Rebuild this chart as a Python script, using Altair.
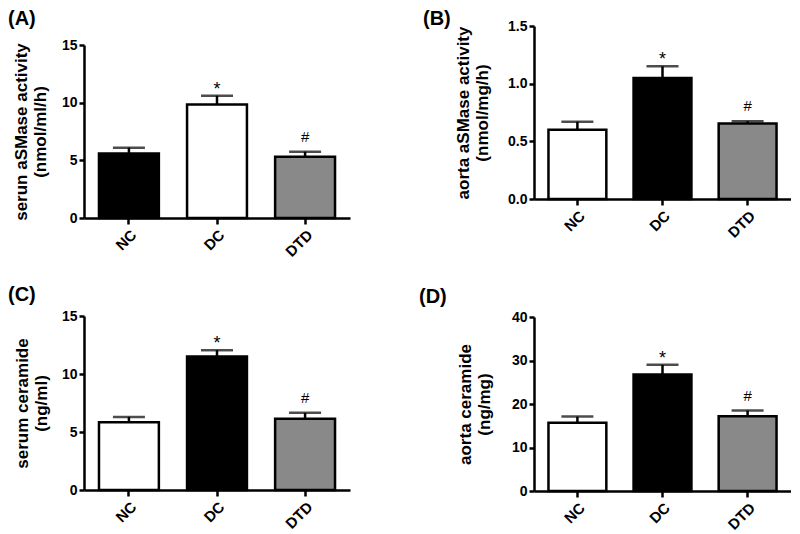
import altair as alt
import pandas as pd

groups = ["NC", "DC", "DTD"]
marks = ["", "*", "#"]

a_mean = [5.6, 9.85, 5.3]
a_sem = [0.5, 0.75, 0.45]
b_mean = [0.60, 1.05, 0.655]
b_sem = [0.07, 0.10, 0.02]
c_mean = [5.85, 11.5, 6.15]
c_sem = [0.45, 0.55, 0.5]
d_mean = [15.7, 26.8, 17.2]
d_sem = [1.4, 2.2, 1.3]

a_fill = ["#000000", "#ffffff", "#898989"]
bcd_fill = ["#ffffff", "#000000", "#898989"]

a_ticks = [0, 5, 10, 15]
b_ticks = [0.0, 0.5, 1.0, 1.5]
c_ticks = [0, 5, 10, 15]
d_ticks = [0, 10, 20, 30, 40]

FONT = "Liberation Sans"
LW = 2.5


def panel(letter, mean, sem, fills, title_lines, ticks, fmt, dmax,
          width, height, lab_x, lab_y, title_pad):
    df = pd.DataFrame({
        "group": groups,
        "mean": mean,
        "top": [m + s for m, s in zip(mean, sem)],
        "mark": marks,
        "fillc": fills,
    })
    x = alt.X("group:N", sort=groups,
              scale=alt.Scale(paddingInner=0.32, paddingOuter=0.17),
              axis=alt.Axis(title=None, labelAngle=-45, tickSize=6,
                            labelPadding=3, labelFontSize=15))

    def yenc(field):
        return alt.Y(field, type="quantitative",
                     scale=alt.Scale(domain=[0, dmax], nice=False, zero=True),
                     axis=alt.Axis(title=title_lines, values=ticks, format=fmt,
                                   tickSize=5, labelPadding=2,
                                   titlePadding=title_pad))

    base = alt.Chart(df)
    rule = base.mark_rule(color="black", strokeWidth=LW).encode(
        x=x, y=yenc("mean"), y2="top:Q")
    cap = base.mark_tick(color="black", thickness=LW, size=32).encode(
        x=x, y=yenc("top"))
    bar = base.mark_bar(stroke="black", strokeWidth=LW).encode(
        x=x, y=yenc("mean"),
        fill=alt.Fill("fillc:N", scale=None))
    star = base.transform_filter("datum.mark == '*'").mark_text(
        font=FONT, fontSize=18, color="black", baseline="alphabetic", dy=-1
    ).encode(x=x, y=yenc("top"), text="mark:N")
    hsh = base.transform_filter("datum.mark == '#'").mark_text(
        font=FONT, fontSize=15, color="black", baseline="alphabetic", dy=-10
    ).encode(x=x, y=yenc("top"), text="mark:N")
    lab = alt.Chart(pd.DataFrame({"t": [letter]})).mark_text(
        font=FONT, fontSize=20, fontWeight="bold", color="black",
        align="left", baseline="top"
    ).encode(text="t:N", x=alt.value(lab_x), y=alt.value(lab_y))
    return alt.layer(rule, cap, bar, star, hsh, lab).properties(
        width=width, height=height)


def spacer():
    return alt.Chart(pd.DataFrame({"v": [0]})).mark_point(
        opacity=0, size=0).encode(
        x=alt.value(0), y=alt.value(0)).properties(width=1, height=1)


pa = panel("(A)", a_mean, a_sem, a_fill,
           ["serun aSMase activity", "(nmol/ml/h)"], a_ticks, "d", 15,
           266, 173, -76, -36, 12)
pb = panel("(B)", b_mean, b_sem, bcd_fill,
           ["aorta aSMase activity", "(nmol/mg/h)"], b_ticks, ".1f", 1.5,
           257, 173, -111, -17, 16)
pc = panel("(C)", c_mean, c_sem, bcd_fill,
           ["serum ceramide", "(ng/ml)"], c_ticks, "d", 15,
           266, 174, -76, -31, 11)
pd_ = panel("(D)", d_mean, d_sem, bcd_fill,
            ["aorta ceramide", "(ng/mg)"], d_ticks, "d", 40,
            257, 174, -115, -30, 18)

col1 = alt.vconcat(spacer(), alt.vconcat(pa, pc, spacing=25), spacing=0)
col2 = alt.vconcat(spacer(), alt.vconcat(pb, pd_, spacing=46), spacing=0)

chart = alt.hconcat(col1, col2, spacing=69).properties(
    padding=0
).configure_view(stroke=None).configure_axis(
    domainColor="black", domainWidth=LW, tickColor="black", tickWidth=LW,
    labelFont=FONT, labelFontSize=14, labelFontWeight="bold",
    labelColor="black", titleFont=FONT, titleFontSize=17,
    titleFontWeight="bold", titleColor="black", titleLineHeight=19,
    grid=False
)

chart.save("out.html", embed_options={"renderer": "svg", "actions": False})
